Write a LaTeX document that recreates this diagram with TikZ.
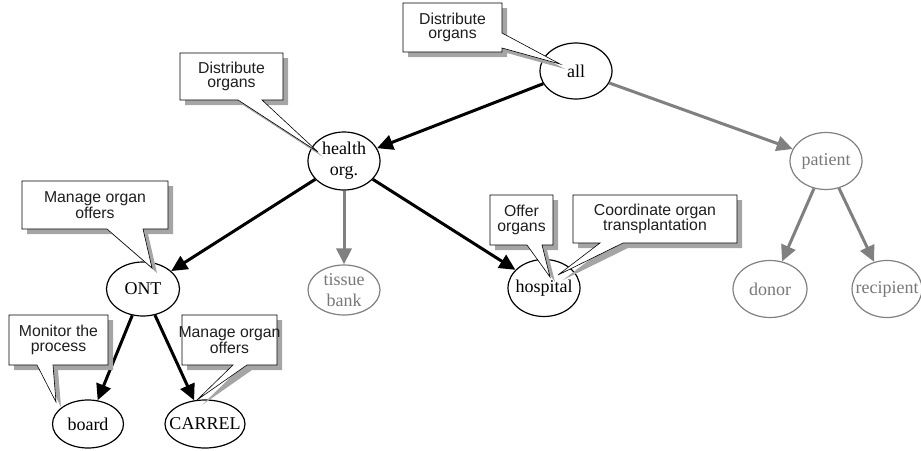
\documentclass[tikz,border=0pt]{standalone}
\usepackage{fontspec}
\setmainfont{Liberation Serif}
\setsansfont{Liberation Sans}
\usetikzlibrary{shapes.geometric,arrows.meta}
\definecolor{edgegray}{RGB}{128,128,128}
\definecolor{txtgray}{RGB}{120,120,120}
\definecolor{shadowgray}{RGB}{165,165,165}
\definecolor{ctxt}{RGB}{30,30,30}
\begin{document}
\begin{tikzpicture}[x=1pt,y=-1pt,
  ell/.style={ellipse,draw=black,fill=white,line width=1.2pt,inner sep=0pt,minimum width=72pt,minimum height=56pt},
  etxt/.style={font=\fontsize{18}{21}\selectfont,align=center,inner sep=0pt},
  gell/.style={ell,draw=edgegray},
  gtxt/.style={etxt,text=txtgray},
  blk/.style={line width=3pt,-{Triangle[length=16pt,width=15pt]}},
  gry/.style={blk,draw=edgegray,fill=edgegray},
  cbox/.style={draw=black,line width=0.6pt,fill=white,line join=miter,
    preaction={fill=shadowgray,transform canvas={shift={(5pt,-5pt)}}}},
  ctext/.style={font=\sffamily\fontsize{15.8}{14.5}\selectfont,text=ctxt,align=center,inner sep=0pt}]

\useasboundingbox (0,0) rectangle (921,450);

% nodes
\node[ell,minimum width=72pt,minimum height=56pt,label={[etxt]center:all}] (all) at (576,71) {};
\node[ell,minimum width=72pt,minimum height=58pt,label={[etxt]center:health\\org.}] (health) at (344,161) {};
\node[ell,minimum width=73pt,minimum height=54pt,label={[etxt]center:ONT}] (ont) at (143,289) {};
\node[ell,minimum width=71pt,minimum height=48pt,label={[etxt]center:board}] (board) at (88,424) {};
\node[ell,minimum width=80pt,minimum height=48pt,label={[etxt]center:CARREL}] (carrel) at (205,424) {};
\node[gell,minimum width=72pt,minimum height=50pt,label={[gtxt]center:tissue\\bank}] (tissue) at (344,290) {};
\node[ell,minimum width=72pt,minimum height=57pt,label={[etxt]center:hospital}] (hospital) at (544,288) {};
\node[gell,minimum width=72pt,minimum height=57pt,label={[gtxt]center:patient}] (patient) at (826,161) {};
\node[gell,minimum width=74pt,minimum height=57pt,label={[gtxt]center:donor}] (donor) at (770,289) {};
\node[gell,minimum width=70pt,minimum height=57pt,label={[gtxt]center:recipient}] (recipient) at (887,289) {};

% connectors
\draw[blk] (all) -- (health);
\draw[gry] (all) -- (patient);
\draw[blk] (health) -- (ont);
\draw[gry] (health) -- (tissue);
\draw[blk] (health) -- (hospital);
\draw[blk] (ont) -- (board);
\draw[blk] (ont) -- (carrel);
\draw[gry] (patient) -- (donor);
\draw[gry] (patient) -- (recipient);

% callouts
\coordinate (t1) at (560,64);
\draw[cbox] (403,3) -- (502,3) -- (502,33) -- (t1) -- (502,48) -- (502,52) -- (403,52) -- cycle;
\node[ctext] (c1) at (452.5,27.5) {Distribute\\organs};

\coordinate (t2) at (318,152);
\draw[cbox] (180,53) -- (283,53) -- (283,100) -- (262,100) -- (t2) -- (238,100) -- (180,100) -- cycle;
\node[ctext] (c2) at (231.5,76.5) {Distribute\\organs};

\coordinate (t3) at (152,268);
\draw[cbox] (22,181) -- (168,181) -- (168,229) -- (143,229) -- (t3) -- (107,229) -- (22,229) -- cycle;
\node[ctext] (c3) at (95,205) {Manage organ\\offers};

\coordinate (t4) at (56,402);
\draw[cbox] (9,315) -- (108,315) -- (108,365) -- (53,365) -- (t4) -- (37,365) -- (9,365) -- cycle;
\node[ctext] (c4) at (58.5,340) {Monitor the\\process};

\coordinate (t5) at (197,400);
\draw[cbox] (182,315) -- (277,315) -- (277,365) -- (247,365) -- (t5) -- (233,365) -- (182,365) -- cycle;
\node[ctext] (c5) at (229.5,340) {Manage organ\\offers};

\coordinate (t6) at (550,277);
\draw[cbox] (490,195) -- (553,195) -- (553,245) -- (542,245) -- (t6) -- (527,245) -- (490,245) -- cycle;
\node[ctext] (c6) at (521.5,220) {Offer\\organs};

\coordinate (t7) at (558,275);
\draw[cbox] (573,195) -- (737,195) -- (737,243) -- (623,243) -- (t7) -- (600,243) -- (573,243) -- cycle;
\node[ctext] (c7) at (655,219) {Coordinate organ\\transplantation};

\end{tikzpicture}
\end{document}
